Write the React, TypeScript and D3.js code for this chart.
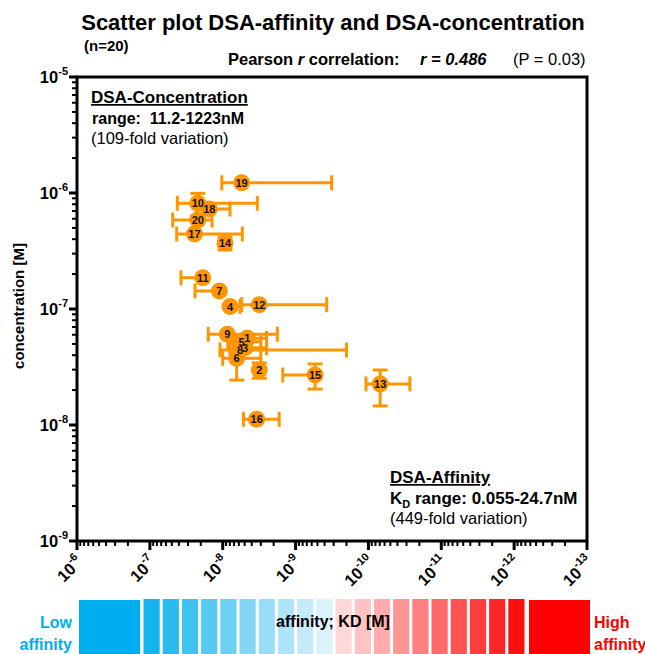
import React from "react";
import * as d3 from "d3";

// ---- data (values in nM) ----
const ids = [1, 2, 3, 4, 5, 6, 7, 8, 9, 10, 11, 12, 13, 14, 15, 16, 17, 18, 19, 20];
const kdValues = [4.6, 3.15, 4.95, 7.94, 5.5, 6.43, 11.1, 5.8, 8.65, 22.0, 18.8, 3.15, 0.069, 9.3, 0.54, 3.42, 24.4, 15.3, 5.5, 22.0];
const concValues = [55.9, 29.8, 46.4, 105, 52.3, 37.6, 143, 44.3, 60.5, 815, 186, 109, 22.6, 368, 27.0, 11.2, 443, 728, 1223, 585];
// KD error bar ends [weaker (larger KD), stronger (smaller KD)]
const kdErrHigh = [7.5, 3.3, 8.0, 10.3, 8.5, 10.0, 24.0, 10.9, 15.8, 42.0, 37.4, 5.5, 0.108, 10.9, 1.5, 5.2, 42.8, 22.7, 10.3, 48.6];
const kdErrLow = [2.5, 3.0, 2.5, 5.8, 3.0, 3.0, 9.0, 0.2, 1.78, 3.35, 15.0, 0.374, 0.027, 7.7, 0.54, 1.68, 5.38, 7.94, 0.32, 14.0];
// concentration error bar ends (null = no visible bar)
const concErrLow: (number | null)[] = [null, 25.3, null, null, null, 24.4, null, null, null, 637, null, null, 14.6, 323, 20.4, null, null, null, null, null];
const concErrHigh: (number | null)[] = [null, 34.3, null, null, null, 50.8, null, null, null, 993, null, null, 29.8, 415, 33.6, null, null, null, null, null];

const xTickExps = [-6, -7, -8, -9, -10, -11, -12, -13];
const yTickExps = [-5, -6, -7, -8, -9];
const colorBlockCount = 20;

const W = 645;
const H = 654;
const L = 77, R = 587, T = 77, B = 541;
const ORANGE = "#FF9500";
const FONT = "'Liberation Sans', Arial, Helvetica, sans-serif";
const RAD = 8.5;

export default function App() {
  const x = d3.scaleLog().domain([1e-6, 1e-13]).range([L, R]);
  const y = d3.scaleLog().domain([1e-9, 1e-5]).range([B, T]);

  const yMinor: number[] = [];
  for (let e = -9; e < -5; e++) for (let k = 2; k <= 9; k++) yMinor.push(k * Math.pow(10, e));
  const xMinor: number[] = [];
  for (let e = -13; e < -6; e++) for (let k = 2; k <= 9; k++) xMinor.push(k * Math.pow(10, e));

  const pts = ids.map((id, i) => ({
    id,
    kd: kdValues[i] * 1e-9,
    c: concValues[i] * 1e-9,
    kh: kdErrHigh[i] * 1e-9,
    kl: kdErrLow[i] * 1e-9,
    cl: concErrLow[i] == null ? null : (concErrLow[i] as number) * 1e-9,
    ch: concErrHigh[i] == null ? null : (concErrHigh[i] as number) * 1e-9,
  }));

  // colour bar
  const blockIdx = d3.range(colorBlockCount);
  const blue = "#00AEEF";
  const red = "#FF0000";
  const cScale = (i: number) => {
    const t = i / (colorBlockCount - 1);
    if (t < 0.5) return d3.interpolateRgb("#14B4EE", "#E6F5FC")(t / 0.5);
    return d3.interpolateRgb("#FFE4E4", "#FF1010")((t - 0.5) / 0.5);
  };
  const bigW = 61;
  const smallStart = 143.5;
  const pitch = (527.5 - smallStart) / colorBlockCount;
  const smallW = pitch - 3;
  const cbTop = 599;

  const capH = 7.5;

  return (
    <svg width={W} height={H} style={{ position: "absolute", left: 0, top: 0, background: "#fff" }} fontFamily={FONT}>
      <rect x={0} y={0} width={W} height={H} fill="#fff" />
      {/* title */}
      <text x={333} y={30} textAnchor="middle" fontSize={22} fontWeight="bold">Scatter plot DSA-affinity and DSA-concentration</text>
      <text x={84} y={51} fontSize={15} fontWeight="bold">(n=20)</text>
      <text x={228} y={65} fontSize={16.5}>
        <tspan fontWeight="bold">Pearson </tspan>
        <tspan fontWeight="bold" fontStyle="italic">r</tspan>
        <tspan fontWeight="bold"> correlation:</tspan>
        <tspan x={420} fontWeight="bold" fontStyle="italic">r = 0.486</tspan>
        <tspan x={513}>(P = 0.03)</tspan>
      </text>

      {/* y label */}
      <text transform="translate(24,306) rotate(-90)" textAnchor="middle" fontSize={15} fontWeight="bold">concentration [M]</text>

      {/* error bars */}
      {pts.map((p) => {
        const cx = x(p.kd), cy = y(p.c);
        const x1 = x(p.kh), x2 = x(p.kl);
        return (
          <g key={"e" + p.id} stroke={ORANGE} strokeWidth={3}>
            <line x1={x1} x2={x2} y1={cy} y2={cy} />
            {Math.abs(x1 - cx) > RAD && <line x1={x1} x2={x1} y1={cy - capH} y2={cy + capH} />}
            {Math.abs(x2 - cx) > RAD && <line x1={x2} x2={x2} y1={cy - capH} y2={cy + capH} />}
            {p.cl != null && p.ch != null && (
              <>
                <line x1={cx} x2={cx} y1={y(p.cl)} y2={y(p.ch)} />
                <line x1={cx - capH} x2={cx + capH} y1={y(p.cl)} y2={y(p.cl)} />
                <line x1={cx - capH} x2={cx + capH} y1={y(p.ch)} y2={y(p.ch)} />
              </>
            )}
          </g>
        );
      })}
      {pts.map((p) => (
        <circle key={"c" + p.id} cx={x(p.kd)} cy={y(p.c)} r={RAD} fill={ORANGE} />
      ))}
      {pts.map((p) => (
        <text key={"t" + p.id} x={x(p.kd)} y={y(p.c) + 4} textAnchor="middle" fontSize={11} fontWeight="bold" fill="#111">{p.id}</text>
      ))}

      {/* frame */}
      <rect x={L} y={T} width={R - L} height={B - T} fill="none" stroke="#000" strokeWidth={3} />

      {/* y ticks */}
      {yTickExps.map((e) => (
        <g key={"yt" + e}>
          <line x1={L - 8} x2={L} y1={y(Math.pow(10, e))} y2={y(Math.pow(10, e))} stroke="#000" strokeWidth={3} />
          <text x={68} y={y(Math.pow(10, e)) + 6} textAnchor="end" fontSize={16.5} fontWeight="bold">
            10<tspan dy={-8} fontSize={11}>{e}</tspan>
          </text>
        </g>
      ))}
      {yMinor.map((v, i) => (
        <line key={"ym" + i} x1={L - 5} x2={L} y1={y(v)} y2={y(v)} stroke="#000" strokeWidth={2} />
      ))}

      {/* x ticks */}
      {xTickExps.map((e) => {
        const tx = x(Math.pow(10, e));
        return (
          <g key={"xt" + e}>
            <line x1={tx} x2={tx} y1={B} y2={B + 9} stroke="#000" strokeWidth={3} />
            <text transform={`translate(${tx + 7},${B + 22}) rotate(-45)`} textAnchor="end" fontSize={16.5} fontWeight="bold">
              10<tspan dy={-8} fontSize={11}>{e}</tspan>
            </text>
          </g>
        );
      })}
      {xMinor.map((v, i) => (
        <line key={"xm" + i} x1={x(v)} x2={x(v)} y1={B} y2={B + 5} stroke="#000" strokeWidth={2} />
      ))}

      {/* annotations */}
      <text x={91} y={103} fontSize={17} fontWeight="bold" textDecoration="underline">DSA-Concentration</text>
      <text x={92} y={124} fontSize={16} fontWeight="bold" xmlSpace="preserve">range:  11.2-1223nM</text>
      <text x={91} y={144} fontSize={16.5}>(109-fold variation)</text>

      <text x={390} y={483} fontSize={17} fontWeight="bold" textDecoration="underline">DSA-Affinity</text>
      <text x={390} y={504} fontSize={17} fontWeight="bold">
        K<tspan dy={4} fontSize={11}>D</tspan><tspan dy={-4}> range: 0.055-24.7nM</tspan>
      </text>
      <text x={390} y={524} fontSize={16.5}>(449-fold variation)</text>

      {/* colour bar */}
      <rect x={79} y={cbTop + 1} width={bigW} height={H} fill={blue} />
      {blockIdx.map((i) => (
        <rect key={"cb" + i} x={smallStart + i * pitch} y={cbTop} width={smallW} height={H} fill={cScale(i)} />
      ))}
      <rect x={529} y={cbTop + 1} width={bigW} height={H} fill={red} />
      <text x={333} y={627} textAnchor="middle" fontSize={16} fontWeight="bold">affinity; KD [M]</text>
      <text x={72} y={628} textAnchor="end" fontSize={16} fontWeight="bold" fill={blue}>Low</text>
      <text x={72} y={650} textAnchor="end" fontSize={16} fontWeight="bold" fill={blue}>affinity</text>
      <text x={594} y={628} fontSize={16} fontWeight="bold" fill={red}>High</text>
      <text x={594} y={650} fontSize={16} fontWeight="bold" fill={red}>affinity</text>
    </svg>
  );
}
